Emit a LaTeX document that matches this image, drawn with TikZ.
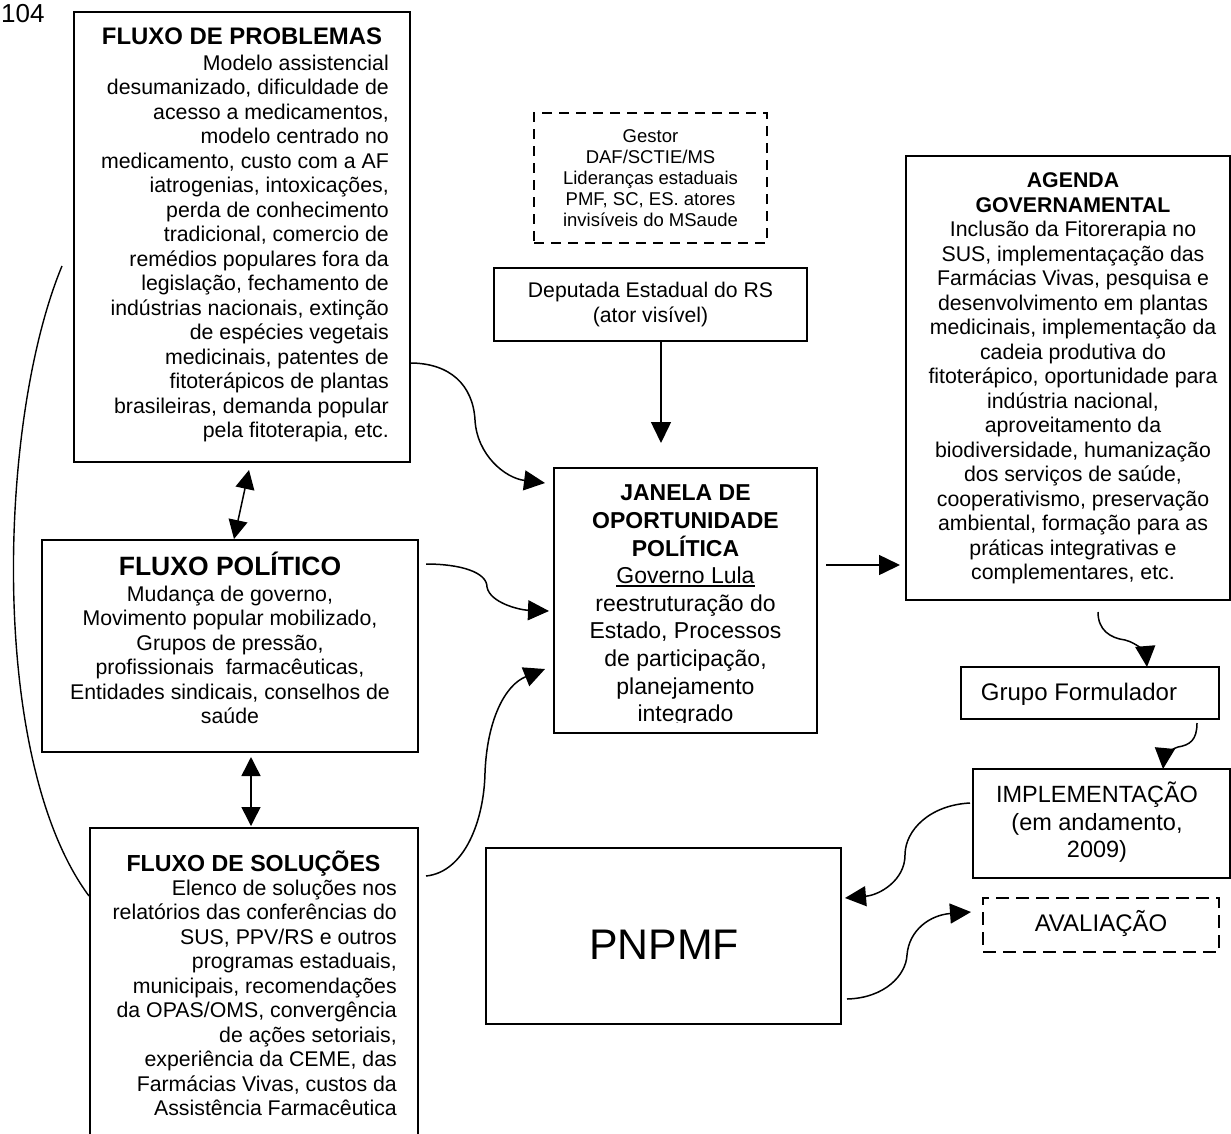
\documentclass[tikz,border=0pt]{standalone}
\usepackage{fontspec}
\setmainfont{Liberation Sans}
\usetikzlibrary{arrows.meta}
\newcommand\fsz[2]{\fontsize{#1pt}{#2pt}\selectfont}
\newcommand\undl[1]{\setbox0\hbox{#1}\rlap{\rule[-3pt]{\wd0}{1.3pt}}\box0}
\begin{document}
\begin{tikzpicture}[x=1pt,y=-1pt,
  box/.style={draw, line width=1.6pt, rectangle, inner sep=0pt, outer sep=0pt},
  dbox/.style={box, dash pattern=on 10pt off 7pt},
  txt/.style={inner sep=0pt, align=center},
  arr/.style={line width=1.5pt, -{Triangle[length=21pt,width=20pt]}},
  darr/.style={line width=1.5pt, {Triangle[length=19pt,width=19pt]}-{Triangle[length=19pt,width=19pt]}},
  link/.style={line width=1.4pt}]

\useasboundingbox (0,0) rectangle (1231,1133);

% page number
\node[inner sep=0pt, anchor=base west, font=\fsz{26}{30}] (pagenum) at (1,22) {104};

% --- boxes ---
\node[box, minimum width=336pt, minimum height=450pt] (prob) at (242,237) {};
\node[box, minimum width=376pt, minimum height=212pt] (pol) at (230,646) {};
\node[box, minimum width=328pt, minimum height=317pt] (sol) at (254,986.5) {};
\node[dbox, minimum width=233pt, minimum height=130pt] (gest) at (650.5,178) {};
\node[box, minimum width=313pt, minimum height=73pt] (dep) at (650.5,304.5) {};
\node[box, minimum width=263pt, minimum height=265pt] (jan) at (685.5,600.5) {};
\node[box, minimum width=324pt, minimum height=444pt] (agen) at (1068,378) {};
\node[box, minimum width=258pt, minimum height=52pt] (grupo) at (1090,693) {};
\node[box, minimum width=257pt, minimum height=109pt] (impl) at (1101.5,823.5) {};
\node[dbox, dash pattern=on 13pt off 7pt, minimum width=236pt, minimum height=54pt] (aval) at (1101,925) {};
\node[box, minimum width=355pt, minimum height=176pt] (pnpmf) at (663.5,936) {};

% --- texts ---
\node[txt, anchor=base, font=\fsz{23.9}{28}\bfseries] (probhead) at (242,44) {FLUXO DE PROBLEMAS};
\node[txt, align=right, anchor=north east, font=\fsz{21.3}{24.5}] (probtext) at (389,52.85)
  {\strut Modelo assistencial\\
   desumanizado, dificuldade de\\
   acesso a medicamentos,\\
   modelo centrado no\\
   medicamento, custo com a AF\\
   iatrogenias, intoxicações,\\
   perda de conhecimento\\
   tradicional, comercio de\\
   remédios populares fora da\\
   legislação, fechamento de\\
   indústrias nacionais, extinção\\
   de espécies vegetais\\
   medicinais, patentes de\\
   fitoterápicos de plantas\\
   brasileiras, demanda popular\\
   pela fitoterapia, etc.};

\node[txt, anchor=base, font=\fsz{26.5}{30}\bfseries] (polhead) at (230,575.3) {FLUXO POLÍTICO};
\node[txt, anchor=north, font=\fsz{21.3}{24.5}] (poltext) at (230,583.85)
  {\strut Mudança de governo,\\
   Movimento popular mobilizado,\\
   Grupos de pressão,\\
   profissionais\ \ farmacêuticas,\\
   Entidades sindicais, conselhos de\\
   saúde};

\node[txt, anchor=base, font=\fsz{23.2}{27}\bfseries] (solhead) at (253.5,871) {FLUXO DE SOLUÇÕES};
\node[txt, align=right, anchor=north east, font=\fsz{21.3}{24.5}] (soltext) at (397,877.85)
  {\strut Elenco de soluções nos\\
   relatórios das conferências do\\
   SUS, PPV/RS e outros\\
   programas estaduais,\\
   municipais, recomendações\\
   da OPAS/OMS, convergência\\
   de ações setoriais,\\
   experiência da CEME, das\\
   Farmácias Vivas, custos da\\
   Assistência Farmacêutica};

\node[txt, anchor=north, font=\fsz{18.5}{21}] (gesttext) at (650.5,128)
  {\strut Gestor\\
   DAF/SCTIE/MS\\
   Lideranças estaduais\\
   PMF, SC, ES. atores\\
   invisíveis do MSaude};

\node[txt, anchor=north, font=\fsz{21.2}{24.2}] (deptext) at (650.5,280.8)
  {\strut Deputada Estadual do RS\\ (ator visível)};

\begin{scope}
  \clip (554,468) rectangle (817,722.5);
  \node[txt, anchor=north, font=\fsz{23}{27.6}] (jantext) at (685.5,481.4)
    {\strut\bfseries JANELA DE\\
     \bfseries OPORTUNIDADE\\
     \bfseries POLÍTICA\\
     \undl{Governo Lula}\\
     reestruturação do\\
     Estado, Processos\\
     de participação,\\
     planejamento\\
     integrado};
\end{scope}

\node[txt, anchor=north, font=\fsz{21.3}{24.5}] (agentext) at (1073,170.4)
  {\strut\bfseries AGENDA\\
   \bfseries GOVERNAMENTAL\\
   Inclusão da Fitorerapia no\\
   SUS, implementaçação das\\
   Farmácias Vivas, pesquisa e\\
   desenvolvimento em plantas\\
   medicinais, implementação da\\
   cadeia produtiva do\\
   fitoterápico, oportunidade para\\
   indústria nacional,\\
   aproveitamento da\\
   biodiversidade, humanização\\
   dos serviços de saúde,\\
   cooperativismo, preservação\\
   ambiental, formação para as\\
   práticas integrativas e\\
   complementares, etc.};

\node[txt, anchor=base, font=\fsz{24}{28}] (grupotext) at (1079,700) {Grupo Formulador};
\node[txt, anchor=north, font=\fsz{23.5}{27.5}] (impltext) at (1097,781.75)
  {\strut IMPLEMENTAÇÃO\\ (em andamento,\\ 2009)};
\node[txt, anchor=base, font=\fsz{24}{28}] (avaltext) at (1101,931.7) {AVALIAÇÃO};
\node[txt, anchor=base, font=\fsz{42.8}{48}] (pnpmftext) at (664,959) {PNPMF};

% --- connector end points ---
\coordinate (pjS) at (410,363);   \coordinate (pjE) at (545,483);
\coordinate (ljS) at (426,564);   \coordinate (ljE) at (549,611);
\coordinate (sjS) at (426,876);   \coordinate (sjE) at (545,669);
\coordinate (djS) at (661,341);   \coordinate (djE) at (661,443);
\coordinate (jaS) at (826,565);   \coordinate (jaE) at (900,565);
\coordinate (ppA) at (249,470);   \coordinate (ppB) at (234,539);
\coordinate (psA) at (251,757);   \coordinate (psB) at (251,826);
\coordinate (agS) at (1098,612);  \coordinate (agE) at (1147,667);
\coordinate (giS) at (1197,723);  \coordinate (giE) at (1163,769);
\coordinate (ipS) at (970,803);   \coordinate (ipE) at (845,898);
\coordinate (paS) at (847,999);   \coordinate (paE) at (971,912);
\coordinate (arcS) at (62,266);   \coordinate (arcE) at (89,896);

% --- connectors ---
\draw[arr] (pjS) .. controls (450,363) and (473,385) .. (475,420)
                 .. controls (477,455) and (505,478) .. (pjE);
\draw[arr] (ljS) .. controls (460,564) and (487,572) .. (487,587)
                 .. controls (490,603) and (520,610) .. (ljE);
\draw[arr] (sjS) .. controls (465,872) and (484,820) .. (485,773)
                 .. controls (487,720) and (505,685) .. (sjE);
\draw[arr] (djS) -- (djE);
\draw[arr] (jaS) -- (jaE);
\draw[darr] (ppA) -- (ppB);
\draw[darr] (psA) -- (psB);
\draw[arr] (agS) .. controls (1098,630) and (1110,638) .. (1125,640)
                 .. controls (1138,643) and (1146,655) .. (agE);
\draw[arr] (giS) .. controls (1197,740) and (1190,745) .. (1178,747)
                 .. controls (1168,750) and (1164,758) .. (giE);
\draw[arr] (ipS) .. controls (930,805) and (905,830) .. (905,855)
                 .. controls (905,880) and (880,895) .. (ipE);
\draw[arr] (paS) .. controls (885,998) and (906,975) .. (907,955)
                 .. controls (909,930) and (930,915) .. (paE);
\draw[link] (arcS) .. controls (-2,420) and (-12,760) .. (arcE);

\end{tikzpicture}
\end{document}
